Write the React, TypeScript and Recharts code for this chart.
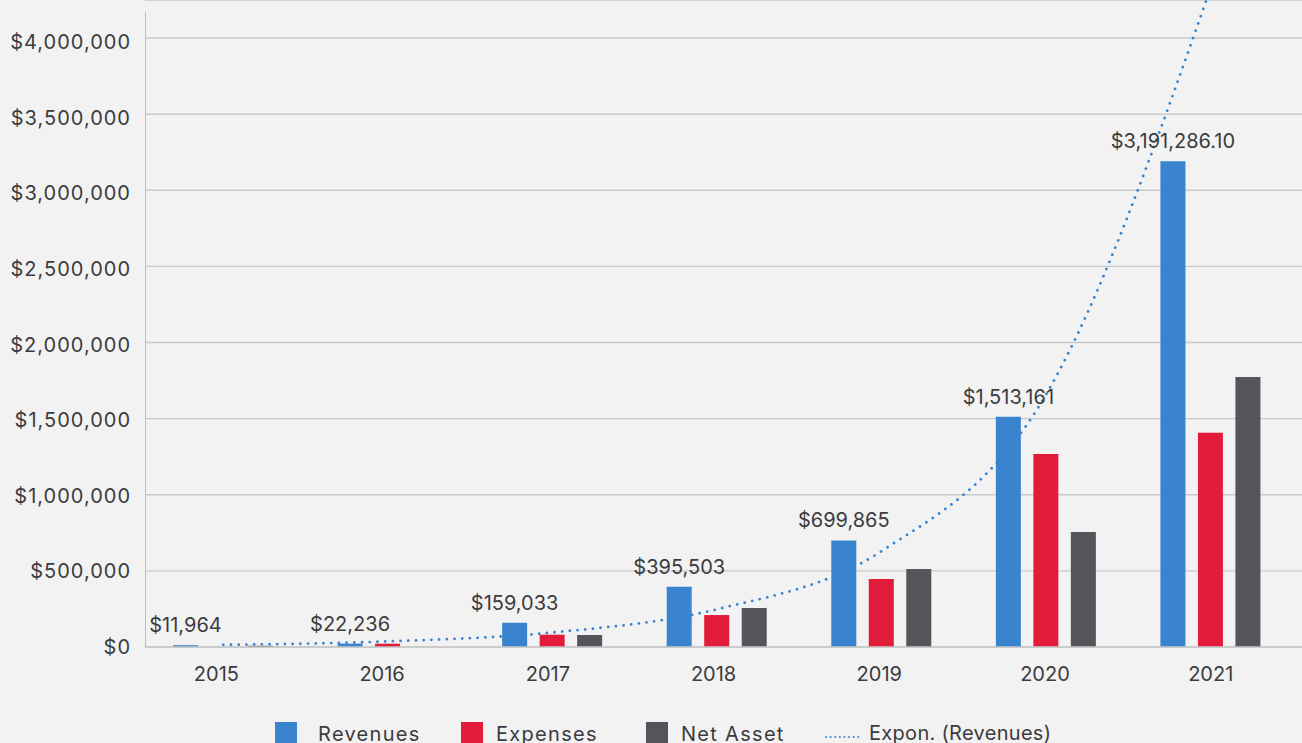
import { ComposedChart, Bar, Line, XAxis, YAxis, CartesianGrid, LabelList } from 'recharts';

const years = ['2015', '2016', '2017', '2018', '2019', '2020', '2021'];
const revenues = [11964, 22236, 159033, 395503, 699865, 1513161, 3191286.1];
const expenses = [0, 21700, 81000, 210000, 447000, 1268000, 1408000];
const netAsset = [8000, 0, 79000, 256000, 512000, 755000, 1773000];
// exponential trendline of revenues at each year
const trendRevenues = [14200, 36800, 95600, 248000, 630000, 1660000, 4330000];
const yTicks = [0, 500000, 1000000, 1500000, 2000000, 2500000, 3000000, 3500000, 4000000];

const data = years.map((year, i) => ({
  year,
  revenues: revenues[i],
  expenses: expenses[i],
  netAsset: netAsset[i],
  trend: trendRevenues[i],
}));

const FONT = 'Inter, "Noto Sans", sans-serif';
const TEXT = '#3b3b40';
const BLUE = '#3a84cf';
const RED = '#e21b3b';
const GRAY = '#55545a';

const money = (v: number) =>
  '$' + (Number.isInteger(v)
    ? v.toLocaleString('en-US')
    : v.toLocaleString('en-US', { minimumFractionDigits: 2, maximumFractionDigits: 2 }));

const legendItems = [
  { name: 'Revenues', color: BLUE, box: 275, text: 318 },
  { name: 'Expenses', color: RED, box: 461, text: 496 },
  { name: 'Net Asset', color: GRAY, box: 646, text: 681 },
];

// year labels sit on a slightly wider spacing than the bar groups
const YearTick = (props: any) => {
  const { x, y, payload, index } = props;
  const dx = -(years.length - 1 - index) * 1.15;
  return (
    <text x={x + dx} y={y} dy="0.71em" textAnchor="middle" fontSize={20} fill={TEXT} fontFamily={FONT}>
      {payload.value}
    </text>
  );
};

// value labels drift a few px below their gridlines toward the top
const MoneyTick = (props: any) => {
  const { x, y, payload } = props;
  const dy = (payload.value / 4000000) * 4;
  return (
    <text x={x} y={y + dy} dy="0.355em" textAnchor="end" fontSize={20} fill={TEXT} fontFamily={FONT} letterSpacing={1}>
      {money(payload.value)}
    </text>
  );
};

export default function App() {
  return (
    <div style={{ position: 'absolute', left: 0, top: 0, width: 1302, height: 743, background: '#f2f2f2', overflow: 'hidden', fontFamily: FONT }}>
      <ComposedChart
        width={1302}
        height={743}
        data={data}
        margin={{ top: 0, right: 0, bottom: 66, left: 0 }}
        barSize={25}
        barGap={12.5}
      >
        <CartesianGrid vertical={false} stroke="#c9c9c9" strokeWidth={1.4} />
        <XAxis
          dataKey="year"
          padding={{ left: -4, right: 9 }}
          height={30}
          tickLine={false}
          tickSize={0}
          tickMargin={20}
          axisLine={{ stroke: '#c9c9c9', strokeWidth: 1.4 }}
          tick={<YearTick />}
        />
        <YAxis
          width={145}
          domain={[0, 4250000]}
          allowDataOverflow
          ticks={yTicks}
          axisLine={false}
          tickLine={false}
          tickSize={0}
          tickMargin={14}
          tick={<MoneyTick />}
        />
        <Line
          dataKey="trend"
          type="monotone"
          stroke={BLUE}
          strokeWidth={2.8}
          strokeDasharray="0.01 7.7"
          strokeLinecap="round"
          dot={false}
          activeDot={false}
          isAnimationActive={false}
        />
        <Bar dataKey="revenues" fill={BLUE} isAnimationActive={false}>
          <LabelList
            dataKey="revenues"
            position="top"
            offset={13}
            formatter={(v: any) => money(Number(v))}
            style={{ fontSize: 20, fill: TEXT, fontFamily: FONT }}
          />
        </Bar>
        <Bar dataKey="expenses" fill={RED} isAnimationActive={false} />
        <Bar dataKey="netAsset" fill={GRAY} isAnimationActive={false} />
      </ComposedChart>

      {/* y axis line, shorter than the plot */}
      <div style={{ position: 'absolute', left: 145, top: 12, width: 1, height: 635, background: '#bdbdbd' }} />

      {legendItems.map((it) => (
        <div key={it.name}>
          <div style={{ position: 'absolute', left: it.box, top: 722, width: 22, height: 22, background: it.color }} />
          <div style={{ position: 'absolute', left: it.text, top: 724, fontSize: 20, lineHeight: '20px', color: TEXT, whiteSpace: 'nowrap', letterSpacing: 1.3 }}>
            {it.name}
          </div>
        </div>
      ))}
      <svg style={{ position: 'absolute', left: 822, top: 730 }} width={40} height={12}>
        <line x1={4} y1={7} x2={38} y2={7} stroke={BLUE} strokeWidth={2} strokeDasharray="0.01 4.6" strokeLinecap="round" />
      </svg>
      <div style={{ position: 'absolute', left: 869, top: 723, fontSize: 20, lineHeight: '20px', color: TEXT, whiteSpace: 'nowrap', letterSpacing: 0.3 }}>
        Expon. (Revenues)
      </div>
    </div>
  );
}
